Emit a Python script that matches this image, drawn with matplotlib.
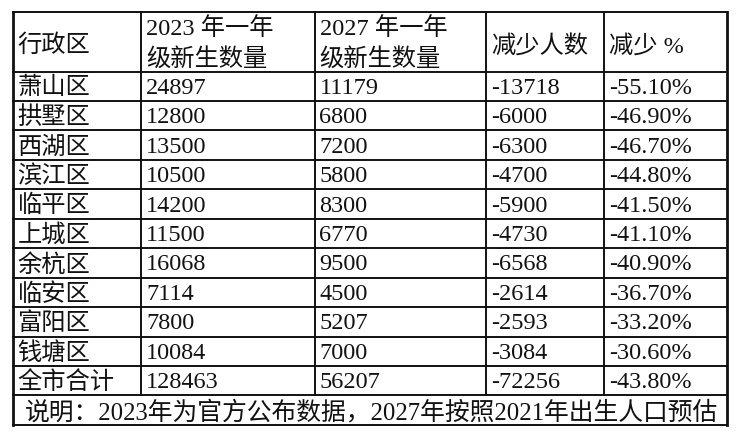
import matplotlib
matplotlib.use("Agg")
import matplotlib.pyplot as plt

# ---- data ----
headers = ["行政区", ["2023 年一年", "级新生数量"], ["2027 年一年", "级新生数量"], "减少人数", "减少 %"]
districts = ["萧山区", "拱墅区", "西湖区", "滨江区", "临平区", "上城区", "余杭区", "临安区", "富阳区", "钱塘区", "全市合计"]
grade1_2023 = [24897, 12800, 13500, 10500, 14200, 11500, 16068, 7114, 7800, 10084, 128463]
grade1_2027 = [11179, 6800, 7200, 5800, 8300, 6770, 9500, 4500, 5207, 7000, 56207]
decrease = [-13718, -6000, -6300, -4700, -5900, -4730, -6568, -2614, -2593, -3084, -72256]
decrease_pct = ["-55.10%", "-46.90%", "-46.70%", "-44.80%", "-41.50%", "-41.10%",
                "-40.90%", "-36.70%", "-33.20%", "-30.60%", "-43.80%"]
note = "说明：2023年为官方公布数据，2027年按照2021年出生人口预估"

# ---- layout (pixels) ----
W, H = 740, 439
col_x = [12.5, 141, 314.5, 486, 604, 727]
top = 13
header_bottom = 72.5
row_h = 29.45
n_rows = len(districts)
data_bottom = header_bottom + n_rows * row_h
bottom = 426
pad = 5
fam = ["Liberation Serif", "Noto Sans CJK SC", "DejaVu Sans"]
fs = 17.5
color = "#111111"

fig = plt.figure(figsize=(W / 100, H / 100), dpi=100)
ax = fig.add_axes([0, 0, 1, 1])
ax.set_xlim(0, W)
ax.set_ylim(H, 0)
ax.axis("off")

lw = 1.4
# horizontal lines
ys = [top, header_bottom] + [header_bottom + (i + 1) * row_h for i in range(n_rows)] + [bottom]
for y in ys:
    ax.plot([col_x[0], col_x[-1]], [y, y], color=color, lw=lw, solid_capstyle="projecting")
# vertical lines
for i, x in enumerate(col_x):
    if i == 0 or i == len(col_x) - 1:
        ax.plot([x, x], [top, bottom], color=color, lw=lw + 0.6, solid_capstyle="projecting")
    else:
        ax.plot([x, x], [top, data_bottom], color=color, lw=lw, solid_capstyle="projecting")

# header
hc = (top + header_bottom) / 2
for j, h in enumerate(headers):
    x = col_x[j] + pad
    if isinstance(h, list):
        ax.text(x, hc - 14, h[0], family=fam, fontsize=fs, va="center", ha="left", color=color)
        ax.text(x, hc + 17, h[1], family=fam, fontsize=fs, va="center", ha="left", color=color)
    else:
        ax.text(x, hc + 3, h, family=fam, fontsize=fs, va="center", ha="left", color=color)

# body
for i in range(n_rows):
    yc = header_bottom + (i + 0.5) * row_h + 1
    vals = [districts[i], str(grade1_2023[i]), str(grade1_2027[i]), str(decrease[i]), decrease_pct[i]]
    for j, v in enumerate(vals):
        ax.text(col_x[j] + pad, yc, v, family=fam, fontsize=fs, va="center", ha="left", color=color)

# note row, fitted to width
nt = ax.text(25, (data_bottom + bottom) / 2 + 1, note, family=fam, fontsize=fs,
             va="center", ha="left", color=color)
fig.canvas.draw()
r = fig.canvas.get_renderer()
bb = nt.get_window_extent(r)
target = 718 - 25
nt.set_fontsize(fs * target / bb.width)

fig.savefig("out.png", dpi=100, facecolor="white")
